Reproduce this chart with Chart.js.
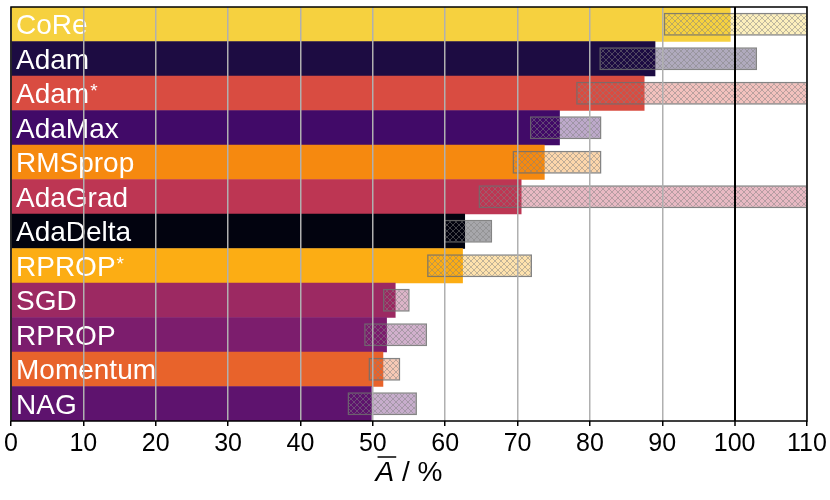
<!DOCTYPE html>
<html>
<head>
<meta charset="utf-8">
<script src="https://cdn.jsdelivr.net/npm/chart.js@4"></script>
<style>
  html, body { margin: 0; padding: 0; background: #fff; }
</style>
</head>
<body>
<canvas id="chart" width="830" height="500"></canvas>
<script>
const optimizers = ['CoRe', 'Adam', 'Adam*', 'AdaMax', 'RMSprop', 'AdaGrad',
    'AdaDelta', 'RPROP*', 'SGD', 'RPROP', 'Momentum', 'NAG'];
const meanAcc = [99.4, 89.0, 87.5, 75.8, 73.7, 70.5, 62.7, 62.4, 53.1, 51.9, 51.4, 49.8];
const minAcc = [90.2, 81.3, 78.1, 71.7, 69.3, 64.6, 59.8, 57.5, 51.4, 48.8, 49.4, 46.5];
const maxAcc = [115, 103.1, 115, 81.6, 81.6, 115, 66.5, 72.0, 55.1, 57.5, 53.8, 56.1];
const barColors = ['#f6d13f', '#1d0c42', '#d94c41', '#410a68', '#f6890f', '#bd3653',
    '#02030f', '#fcad14', '#9c2962', '#7c1d6d', '#e8632b', '#5e136e'];
const xTicks = [0, 10, 20, 30, 40, 50, 60, 70, 80, 90, 100, 110];

const FONT = "'Liberation Sans', 'DejaVu Sans', sans-serif";

// translucent fill with a gray cross hatch, like matplotlib's 'xxx'
function hatch(hex) {
    const s = 6;
    const c = document.createElement('canvas');
    c.width = s; c.height = s;
    const g = c.getContext('2d');
    const r = parseInt(hex.slice(1, 3), 16), gr = parseInt(hex.slice(3, 5), 16), b = parseInt(hex.slice(5, 7), 16);
    g.fillStyle = `rgba(${r},${gr},${b},0.35)`;
    g.fillRect(0, 0, s, s);
    g.strokeStyle = 'rgba(130,130,130,0.5)';
    g.lineWidth = 1;
    g.beginPath();
    g.moveTo(0, 0); g.lineTo(s, s);
    g.moveTo(s, 0); g.lineTo(0, s);
    g.stroke();
    return g.createPattern(c, 'repeat');
}

const rangeData = minAcc.map((lo, i) => [lo, maxAcc[i]]);

const decor = {
    id: 'decor',
    afterDatasetsDraw(chart) {
        const ctx = chart.ctx;
        const y = chart.scales.y;
        ctx.save();
        ctx.fillStyle = '#fff';
        ctx.textBaseline = 'alphabetic';
        ctx.textAlign = 'left';
        optimizers.forEach((name, i) => {
            const base = y.getPixelForValue(i) + 10;
            const star = name.endsWith('*');
            const txt = star ? name.slice(0, -1) : name;
            ctx.font = `28px ${FONT}`;
            const x0 = chart.chartArea.left + 5;
            ctx.fillText(txt, x0, base);
            if (star) {
                const w = ctx.measureText(txt).width;
                ctx.font = `19px ${FONT}`;
                ctx.fillText('*', x0 + w + 1, base - 6);
            }
        });
        ctx.restore();
    },
    afterDraw(chart) {
        const ctx = chart.ctx;
        const a = chart.chartArea;
        ctx.save();
        ctx.strokeStyle = '#000';
        ctx.lineWidth = 1.5;
        ctx.strokeRect(a.left, a.top, a.right - a.left, a.bottom - a.top);
        // axis title: A with overline, then " / %"
        const cx = (a.left + a.right) / 2;
        const base = 481;
        ctx.fillStyle = '#000';
        ctx.textBaseline = 'alphabetic';
        ctx.font = `italic 28px ${FONT}`;
        const wA = ctx.measureText('A').width;
        ctx.font = `28px ${FONT}`;
        const rest = ' / %';
        const wR = ctx.measureText(rest).width;
        const x0 = cx - (wA + wR) / 2;
        ctx.font = `italic 28px ${FONT}`;
        ctx.fillText('A', x0, base);
        ctx.font = `28px ${FONT}`;
        ctx.fillText(rest, x0 + wA, base);
        ctx.lineWidth = 1.5;
        ctx.beginPath();
        ctx.moveTo(x0 + 2, base - 24);
        ctx.lineTo(x0 + wA + 2, base - 24);
        ctx.stroke();
        ctx.restore();
    }
};

new Chart(document.getElementById('chart'), {
    type: 'bar',
    data: {
        labels: optimizers,
        datasets: [{
            label: 'range',
            data: rangeData,
            backgroundColor: barColors.map(hatch),
            borderColor: 'rgba(110,110,110,0.85)',
            borderWidth: 1.5,
            borderSkipped: false,
            barPercentage: 0.67,
            categoryPercentage: 1,
            grouped: false,
            order: 0
        }, {
            label: 'mean',
            data: meanAcc,
            backgroundColor: barColors,
            borderWidth: 0,
            barPercentage: 1,
            categoryPercentage: 1,
            grouped: false,
            order: 1
        }]
    },
    options: {
        indexAxis: 'y',
        responsive: false,
        animation: false,
        devicePixelRatio: 1,
        layout: { padding: { left: 11, right: 23, top: 7, bottom: 0 } },
        plugins: { legend: { display: false }, tooltip: { enabled: false } },
        scales: {
            x: {
                min: 0,
                max: 110,
                afterBuildTicks(scale) { scale.ticks = xTicks.map(v => ({ value: v })); },
                afterFit(scale) { scale.height = 79; },
                ticks: {
                    color: '#000',
                    font: { family: FONT, size: 25 },
                    padding: 3,
                    maxRotation: 0,
                    autoSkip: false
                },
                grid: {
                    z: 1,
                    color: ctx => (ctx.tick && ctx.tick.value === 100) ? '#000' : '#b0b0b0',
                    lineWidth: ctx => (ctx.tick && ctx.tick.value === 100) ? 2 : 1.5,
                    tickColor: '#000',
                    tickLength: 5,
                    tickWidth: 1.5
                },
                border: { display: false }
            },
            y: { display: false }
        }
    },
    plugins: [decor]
});
</script>
</body>
</html>
